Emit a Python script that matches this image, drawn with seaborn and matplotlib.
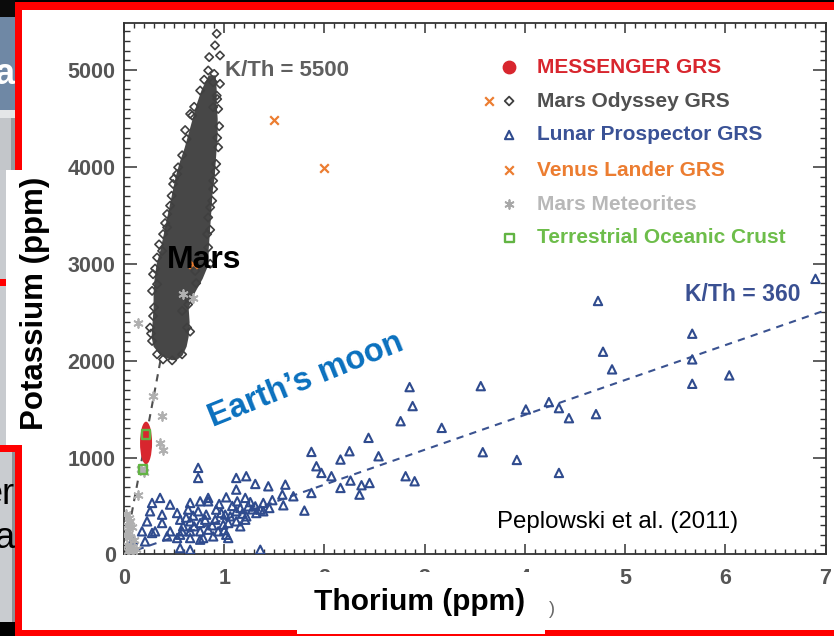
import matplotlib
matplotlib.use("Agg")
import matplotlib.pyplot as plt
import seaborn as sns
from matplotlib.patches import Rectangle, Ellipse
from matplotlib.ticker import MultipleLocator
from matplotlib.transforms import Bbox, TransformedBbox
from matplotlib import font_manager

# ---------------- data (Th in ppm, K in ppm) ----------------
lunar_th = [0.09, 0.18, 0.21, 0.23, 0.26, 0.28, 0.28, 0.31, 0.36, 0.38, 0.38, 0.43, 0.46, 0.46,
            0.53, 0.53, 0.56, 0.56, 0.56, 0.58, 0.59, 0.62, 0.64, 0.66, 0.66, 0.66, 0.66, 0.66,
            0.69, 0.70, 0.74, 0.74, 0.74, 0.76, 0.76, 0.76, 0.76, 0.79, 0.81, 0.82, 0.84, 0.84,
            0.84, 0.88, 0.89, 0.91, 0.92, 0.94, 0.95, 0.97, 0.99, 1.00, 1.01, 1.02, 1.02, 1.04,
            1.04, 1.06, 1.08, 1.12, 1.12, 1.12, 1.12, 1.13, 1.16, 1.16, 1.18, 1.21, 1.21, 1.22,
            1.22, 1.24, 1.26, 1.28, 1.31, 1.31, 1.32, 1.36, 1.36, 1.39, 1.39, 1.44, 1.45, 1.48,
            1.58, 1.59, 1.61, 1.69, 1.80, 1.87, 1.87, 1.92, 1.97, 2.07, 2.16, 2.16, 2.25, 2.26,
            2.35, 2.37, 2.45, 2.44, 2.54, 2.76, 2.85, 2.88, 2.81, 2.90, 3.17, 3.56, 3.58, 3.92,
            4.01, 4.24, 4.34, 4.44, 4.71, 4.34, 4.73, 4.78, 4.87, 5.67, 5.67, 5.67, 6.04, 6.90]
lunar_k = [152, 238, 134, 341, 445, 531, 221, 238, 583, 410, 324, 186, 514, 238,
           427, 169, 358, 203, 65, 238, 290, 380, 462, 531, 341, 238, 169, 48,
           400, 290, 893, 789, 445, 548, 324, 238, 152, 169, 358, 410, 583, 548,
           255, 300, 186, 358, 462, 238, 520, 427, 307, 250, 410, 589, 203, 324,
           169, 393, 500, 789, 669, 445, 341, 548, 479, 290, 420, 583, 358, 807,
           393, 496, 540, 465, 727, 496, 427, 462, 48, 531, 445, 703, 479, 560,
           617, 507, 720, 600, 452, 634, 1058, 910, 841, 807, 979, 686, 1065, 762,
           617, 714, 737, 1203, 1013, 1375, 1727, 1531, 807, 755, 1306, 1737, 1055, 975,
           1496, 1572, 1510, 1406, 1448, 841, 2616, 2092, 1910, 2278, 2013, 1761, 1848, 2844]

# Mars Odyssey GRS: envelope of the dense cloud plus its resolved outer diamonds
mars_band_k = [2010, 2060, 2150, 2250, 2400, 2550, 2700, 2850, 3000, 3150, 3300, 3450,
               3600, 3750, 3900, 4050, 4200, 4350, 4500, 4650, 4800, 4950]
mars_band_lo = [0.47, 0.36, 0.29, 0.27, 0.28, 0.29, 0.29, 0.30, 0.32, 0.36, 0.39, 0.42,
                0.45, 0.48, 0.51, 0.55, 0.60, 0.64, 0.68, 0.72, 0.77, 0.84]
mars_band_hi = [0.52, 0.58, 0.62, 0.64, 0.65, 0.64, 0.70, 0.78, 0.84, 0.84, 0.85, 0.86,
                0.87, 0.88, 0.90, 0.91, 0.92, 0.93, 0.93, 0.92, 0.92, 0.91]
mars_th = [0.925, 0.908, 0.85, 0.958, 0.84, 0.89, 0.958, 0.76, 0.925, 0.66, 0.94, 0.625,
           0.94, 0.54, 0.92, 0.53, 0.49, 0.89, 0.475, 0.89, 0.43, 0.86, 0.43, 0.84, 0.39,
           0.33, 0.38, 0.29, 0.33, 0.84, 0.83, 0.76, 0.71, 0.28, 0.63, 0.29, 0.58, 0.48,
           0.58, 0.63, 0.28, 0.26, 0.33, 0.39, 0.68, 0.89,
           0.30, 0.27, 0.31, 0.35, 0.41, 0.46, 0.50, 0.58, 0.61, 0.70, 0.80,
           0.66, 0.64, 0.72, 0.86, 0.86, 0.88, 0.91, 0.93, 0.95, 0.93, 0.90]
mars_k = [5374, 5254, 5133, 5150, 4995, 4874, 4857, 4788, 4736, 4547, 4598, 4288,
          4202, 3995, 4030, 3926, 3823, 3857, 3702, 3771, 3513, 3582, 3375, 3478, 3306,
          3064, 3133, 2892, 2789, 3168, 3306, 3030, 2926, 2720, 2651, 2461, 2513, 2003,
          2065, 2341, 2203, 2341, 2065, 2013, 4530, 4616,
          2550, 2280, 2950, 3200, 3420, 3600, 3880, 4120, 4380, 4620, 4900,
          2300, 2580, 2800, 3000, 3350, 3650, 3950, 4300, 4420, 4700, 4960]

meteor_th = [0.14, 0.29, 0.38, 0.36, 0.39, 0.17, 0.20, 0.14, 0.585, 0.685, 0.06, 0.04,
             0.02, 0.05, 0.03, 0.08, 0.02, 0.06, 0.10, 0.03, 0.07, 0.12, 0.04, 0.09]
meteor_k = [2390, 1634, 1427, 1151, 1082, 880, 850, 617, 2685, 2651, 341, 238,
            420, 380, 300, 280, 200, 180, 150, 100, 80, 60, 40, 30]

venus_th = [1.50, 2.00, 0.69]
venus_k = [4488, 3992, 3000]

ocean_th = [0.22, 0.19]
ocean_k = [1240, 875]

messenger_th, messenger_th_err = 0.22, 0.06
messenger_k, messenger_k_err = 1150, 220

ratio_lunar = 360
ratio_mars = 5500

x_ticks = [0, 1, 2, 3, 4, 5, 6, 7]
x_tick_labels = ["0", "1", "2", "3", "4", "5", "6", "7"]
y_ticks = [0, 1000, 2000, 3000, 4000, 5000]
y_tick_labels = ["0", "1000", "2000", "3000", "4000", "5000"]

legend_labels = ["MESSENGER GRS", "Mars Odyssey GRS", "Lunar Prospector GRS",
                 "Venus Lander GRS", "Mars Meteorites", "Terrestrial Oceanic Crust"]

# ---------------- style ----------------
RED = "#d8262e"
DARK = "#404040"
BLUE = "#2f4b8e"
ORANGE = "#ec7d31"
LGRAY = "#b0b0b0"
GREEN = "#62b443"
FRAME_RED = "#ff0000"

sns.set_theme(style="white")
plt.rcParams["font.family"] = ["Liberation Sans", "DejaVu Sans"]

def has_font(name):
    try:
        font_manager.findfont(name, fallback_to_default=False)
        return True
    except Exception:
        return False

narrow = "Liberation Sans Narrow" if has_font("Liberation Sans Narrow") else "Liberation Sans"

W, H = 834, 636
fig = plt.figure(figsize=(W / 100, H / 100), dpi=100)
fig.patch.set_facecolor("white")
ax = fig.add_axes([124 / W, 1 - 554.4 / H, 701.5 / W, 530.9 / H])
ax.set_facecolor("white")

# reference K/Th trends (the Mars one disappears under the cloud)
lt = [0, 7]
ax.plot(lt, [ratio_lunar * t for t in lt], color="#3a5290", lw=1.5,
        dashes=(3.5, 3.0), zorder=1)
mt = [0, 0.40]
ax.plot(mt, [ratio_mars * t for t in mt], color="#505050", lw=1.5,
        dashes=(3.5, 3.0), zorder=1)

# Lunar Prospector
sns.scatterplot(x=lunar_th, y=lunar_k, ax=ax, marker="^", s=36, facecolor="none",
                edgecolor=BLUE, linewidth=1.5, zorder=3)

# Mars Odyssey cloud
ax.fill_betweenx(mars_band_k, mars_band_lo, mars_band_hi, color="#474747", lw=0, zorder=3)
sns.scatterplot(x=mars_th, y=mars_k, ax=ax, marker="D", s=18, facecolor="none",
                edgecolor=DARK, linewidth=1.2, zorder=4)

# Mars meteorites
sns.scatterplot(x=meteor_th, y=meteor_k, ax=ax, marker=(6, 2, 0), s=40,
                color=LGRAY, edgecolor=LGRAY, linewidth=1.3, zorder=5)

# MESSENGER GRS (uncertainty ellipse)
ax.add_patch(Ellipse((messenger_th, messenger_k), 2 * messenger_th_err, 2 * messenger_k_err,
                     facecolor=RED, edgecolor="none", zorder=6))

# Terrestrial oceanic crust
sns.scatterplot(x=ocean_th, y=ocean_k, ax=ax, marker="s", s=40, facecolor="none",
                edgecolor=GREEN, linewidth=1.7, zorder=7)

# Venus landers
sns.scatterplot(x=venus_th, y=venus_k, ax=ax, marker="x", s=38, color=ORANGE,
                linewidth=1.6, zorder=6)

# annotations
ax.text(1.01, 4990, "K/Th = 5500", color="#5f5f5f", fontsize=16, fontweight="bold",
        ha="left", va="center", zorder=8)
ax.text(5.6, 2680, "K/Th = 360", color="#3a5092", fontsize=16.5, fontweight="bold",
        ha="left", va="center", zorder=8)
ax.text(0.43, 3040, "Mars", color="black", fontsize=23, fontweight="bold",
        ha="left", va="center", zorder=8)
ax.text(1.82, 1800, "Earth\u2019s moon", color="#0a70be", fontsize=23.5, fontweight="bold",
        rotation=22, rotation_mode="anchor", ha="center", va="center", zorder=8)
ax.text(3.72, 335, "Peplowski et al. (2011)", color="black", fontsize=17.3,
        family=[narrow, "DejaVu Sans"], ha="left", va="center", zorder=8)

# legend
leg_y = [0.918, 0.854, 0.790, 0.724, 0.660, 0.596]
leg_colors = [RED, "#505050", "#3a5296", ORANGE, "#b8b8b8", "#6dbd4a"]
leg_x_marker, leg_x_text = 0.549, 0.589
ax.scatter([leg_x_marker], [leg_y[0]], marker="o", s=80, color=RED,
           transform=ax.transAxes, clip_on=False, zorder=9)
ax.scatter([leg_x_marker], [leg_y[1]], marker="D", s=20, facecolor="none",
           edgecolor=DARK, linewidth=1.3, transform=ax.transAxes, zorder=9)
ax.scatter([0.520], [leg_y[1]], marker="x", s=38, color=ORANGE, linewidth=1.6,
           transform=ax.transAxes, zorder=9)
ax.scatter([leg_x_marker], [leg_y[2]], marker="^", s=36, facecolor="none",
           edgecolor=BLUE, linewidth=1.5, transform=ax.transAxes, zorder=9)
ax.scatter([leg_x_marker], [leg_y[3]], marker="x", s=38, color=ORANGE, linewidth=1.6,
           transform=ax.transAxes, zorder=9)
ax.scatter([leg_x_marker], [leg_y[4]], marker=(6, 2, 0), s=40, color="#a8a8a8",
           linewidth=1.3, transform=ax.transAxes, zorder=9)
ax.scatter([leg_x_marker], [leg_y[5]], marker="s", s=40, facecolor="none",
           edgecolor=GREEN, linewidth=1.7, transform=ax.transAxes, zorder=9)
for lbl, yy, c in zip(legend_labels, leg_y, leg_colors):
    ax.text(leg_x_text, yy, lbl, color=c, fontsize=15, fontweight="bold",
            ha="left", va="center", transform=ax.transAxes, zorder=9)

# axes, ticks
ax.set_xlim(0, 7)
ax.set_ylim(0, 5480)
ax.set_xlabel("")
ax.set_ylabel("")
ax.set_xticks(x_ticks)
ax.set_xticklabels(x_tick_labels, fontweight="bold", color="#555555", fontsize=15.5)
ax.set_yticks(y_ticks)
ax.set_yticklabels(y_tick_labels, fontweight="bold", color="#555555", fontsize=15.5)
ax.xaxis.set_minor_locator(MultipleLocator(0.1))
ax.yaxis.set_minor_locator(MultipleLocator(100))
ax.tick_params(axis="x", which="major", direction="in", length=7.5, width=1.1,
               color="#333333", top=True, bottom=True, pad=10)
ax.tick_params(axis="x", which="minor", direction="in", length=3.3, width=1.0,
               color="#333333", top=True, bottom=True)
ax.tick_params(axis="y", which="major", direction="in", length=9.4, width=1.1,
               color="#333333", left=True, right=True, pad=6)
ax.tick_params(axis="y", which="minor", direction="in", length=4.3, width=1.0,
               color="#333333", left=True, right=True)
for sp in ax.spines.values():
    sp.set_color("#333333")
    sp.set_linewidth(1.3)


# ---------------- surrounding slide frame ----------------
def frame_rect(x0, y0, x1, y1, color, z=1):
    fig.patches.append(Rectangle((x0 / W, 1 - y1 / H), (x1 - x0) / W, (y1 - y0) / H,
                                 transform=fig.transFigure, facecolor=color,
                                 edgecolor="none", zorder=z))


frame_rect(0, 0, W, 2.5, "black")
frame_rect(0, 0, 15, 17, "#0b0b0b")
frame_rect(0, 17, 15, 110, "#6f88a5")
frame_rect(0, 110, 15, 118, "#e4e6e8")
frame_rect(0, 118, 11, 170, "#c3c6ca")
frame_rect(11, 118, 15, 170, "#979a9f")
frame_rect(0, 170, 6, 445, "#c8cbcf")
frame_rect(0, 279, 6, 286, FRAME_RED)
frame_rect(15, 2.5, W, 10, FRAME_RED)
frame_rect(15, 2.5, 22, 170, FRAME_RED)
frame_rect(6, 170, 60, 445, "white")
frame_rect(0, 445, 22, 452, FRAME_RED)
frame_rect(0, 452, 12, 622, "#c9ccd0")
frame_rect(12, 452, 15, 622, "#8e9196")
frame_rect(0, 622, 15, H, "black")
frame_rect(15, 445, 22, H, FRAME_RED)
frame_rect(15, 630, W, H, FRAME_RED)
frame_rect(297, 572, 545, 634, "white")

clip_left = TransformedBbox(Bbox([[0, 0], [15 / W, 1]]), fig.transFigure)
for txt, yy, col in [("a", 74, "white"), ("er", 495, "black"), ("a", 538, "black")]:
    t = fig.text(15 / W, 1 - yy / H, txt, ha="right", va="center", fontsize=26,
                 color=col, fontweight="bold" if col == "white" else "normal", zorder=2)
    t.set_clip_box(clip_left)
    t.set_clip_on(True)

fig.text(549 / W, 1 - 610 / H, ")", ha="left", va="center", fontsize=13,
         color="#666666", zorder=2)

# axis titles
fig.text(35 / W, 1 - 303 / H, "Potassium (ppm)", rotation=90, ha="center", va="center",
         fontsize=22.5, fontweight="bold", color="black", zorder=3)
fig.text(420 / W, 1 - 602 / H, "Thorium (ppm)", ha="center", va="center",
         fontsize=21.5, fontweight="bold", color="black", zorder=3)

fig.savefig("out.png", dpi=100, facecolor="white")
